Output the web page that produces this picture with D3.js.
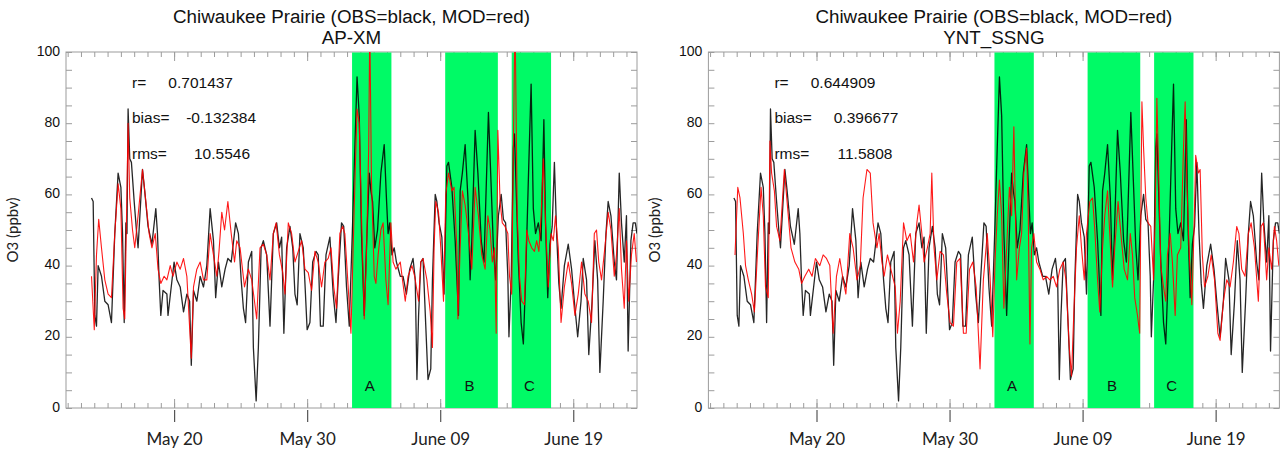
<!DOCTYPE html>
<html>
<head>
<meta charset="utf-8">
<script src="https://cdn.jsdelivr.net/npm/d3@7"></script>
<style>
  body { margin: 0; background: #fff; }
  svg { display: block; }
</style>
</head>
<body>
<svg id="chart" width="1287" height="450"></svg>
<script>
// Hourly ozone at Chiwaukee Prairie, times in hours after 00 UTC 12 May.
const obsHours = [43,46,49,52,55,61,67,73,79,85,91,96,99,102,105,107,109,112,115,120,
  124,127,135,139,145,152,159,162,165,168,172,179,181,189,192,197,203,209,215,220,
  223,227,233,239,245,251,257,263,267,272,278,284,289,295,303,308,313,317,321,326,
  332,335,340,344,349,353,359,365,371,377,382,386,390,395,401,406,410,414,419,425,
  432,437,442,448,452,456,461,466,473,479,484,488,494,498,503,508,514,518,522,526,
  530,535,539,544,547,550,554,559,565,571,575,578,581,585,589,593,600,605,611,617,
  623,627,630,633,637,641,646,650,655,658,663,666,670,675,679,684,687,693,699,705,
  708,712,717,722,726,729,735,740,746,751,759,764,768,772,777,782,786,790,794,796,
  800,804,806,813,818,822,826,831,836,840,844,849,854,859,862,866,870,874,878,882,
  886,890,896,903,909,914,920,926,930,936,940,946,951,956,960,966,971,975,980,986,
  990,995,999,1004,1008,1011,1016,1020,1024,1027];
const obsValues = [59,58,26,23,40,37,30,29,24,49,66,62,49,24,52,49,84,70,69,58,
  50,45,67,61,51,46,56,49,36,26,33,32,26,37,41,36,34,27,32,30,
  12,33,30,37,34,40,56,47,31,41,34,39,42,41,52,49,36,28,24,41,
  44,17,2,17,45,47,43,23,49,52,45,48,21,45,51,45,32,29,49,45,
  22,24,41,44,43,23,23,43,48,32,24,36,52,51,34,23,52,73,93,82,
  49,26,45,66,61,58,45,50,66,74,59,49,52,43,45,41,37,37,32,39,
  42,36,8,26,41,42,23,8,11,36,60,58,52,48,32,68,69,62,47,26,
  61,66,74,59,36,47,78,66,47,41,83,62,45,36,54,60,53,52,37,20,
  36,73,77,41,24,18,36,64,91,56,49,52,47,81,52,31,46,51,69,49,
  35,28,40,46,39,30,20,30,42,36,15,30,47,36,10,30,49,58,54,41,
  36,66,52,41,54,16,47,52,52,49];

// Model run AP-XM
const apxmHours = [43,48,52,56,61,67,73,79,85,91,96,100,103,106,109,112,117,121,127,135,
  139,147,152,158,163,168,174,179,185,190,197,203,209,215,223,227,233,239,245,251,
  257,263,269,273,278,283,289,295,301,305,311,319,326,332,337,341,347,353,359,365,
  371,376,382,388,392,398,404,410,416,422,428,434,440,446,452,458,464,470,475,480,
  485,491,496,500,506,511,515,519,522,526,530,535,539,543,545,548,553,556,560,565,
  569,574,578,583,587,592,600,604,609,614,621,626,633,637,641,648,654,658,661,664,
  669,673,678,682,687,693,697,702,704,708,712,717,723,729,735,741,747,753,758,762,
  766,770,773,776,780,784,789,794,797,801,804,807,811,815,819,824,828,832,837,842,
  846,850,854,858,862,867,872,876,880,885,890,896,903,909,915,921,927,933,939,945,
  950,954,958,963,969,975,980,986,990,995,999,1004,1008,1012,1017,1022,1026];
const apxmValues = [37,22,43,53,45,36,32,31,49,63,56,28,25,52,80,59,50,45,54,67,
  61,49,45,49,39,35,37,36,40,37,41,39,42,37,14,34,39,41,36,36,
  49,43,37,44,55,50,58,49,41,47,45,34,39,36,30,25,45,46,43,36,
  49,52,43,38,32,52,49,41,44,47,39,38,33,44,41,34,41,42,45,34,
  28,49,51,49,34,21,45,68,84,80,54,25,43,73,108,64,37,35,43,50,
  52,36,29,52,41,39,41,36,30,37,40,37,30,41,42,36,27,17,45,58,
  55,45,30,60,66,61,62,45,25,45,61,57,49,39,62,54,43,39,54,50,
  41,45,21,78,58,52,51,49,37,32,73,110,54,37,30,29,50,47,45,44,
  47,44,54,70,52,34,49,47,54,45,24,34,41,35,26,32,41,32,30,24,
  49,50,41,36,45,55,50,37,43,56,39,28,47,30,43,49,41];

// Model run YNT_SSNG
const yntHours = [45,50,54,60,64,69,75,80,86,92,96,100,105,108,111,116,120,126,134,140,
  146,153,160,165,171,178,184,190,198,204,210,216,222,228,234,240,245,252,258,265,
  271,276,283,289,294,301,305,310,314,320,326,334,338,343,349,355,361,367,373,377,
  382,386,392,397,400,404,409,415,421,427,433,439,445,451,457,462,468,474,480,487,
  493,500,505,510,514,518,522,526,530,535,540,544,548,553,558,562,566,571,574,577,
  580,584,589,595,601,607,613,619,625,631,637,642,648,652,656,661,666,670,675,679,
  685,690,694,699,703,708,712,717,721,726,730,736,741,747,753,758,762,766,771,775,
  779,782,786,790,795,800,803,806,810,813,818,822,825,830,834,839,843,849,854,857,
  860,864,869,873,876,881,884,888,892,898,904,910,916,920,926,932,938,944,950,954,
  959,965,971,976,982,989,994,998,1004,1008,1013,1018,1022,1026];
const yntValues = [43,62,59,49,40,36,32,27,45,62,54,34,31,75,66,61,51,47,67,56,
  45,41,39,35,37,39,37,42,40,43,42,40,21,37,42,36,32,49,45,36,
  40,59,67,66,52,45,49,41,37,43,39,34,21,30,52,47,49,41,52,57,
  49,41,45,49,66,45,36,44,43,32,24,23,41,42,21,21,39,41,34,11,
  36,49,37,20,41,54,64,54,28,45,62,54,79,36,45,49,66,73,54,18,
  45,49,41,39,36,37,36,37,34,39,41,36,17,9,26,45,54,45,36,49,
  58,59,50,36,27,45,54,61,49,34,45,58,49,39,36,49,43,31,26,21,
  86,73,59,52,51,36,54,87,61,40,34,30,43,49,41,26,43,45,73,86,
  64,45,29,50,71,66,67,43,34,37,43,36,21,19,30,36,34,41,51,49,
  39,37,49,52,45,30,51,52,36,45,39,51,47,40];

// Episode windows (UTC)
const episodeLabels = ["A", "B", "C"];
const episodeStarts = ["2012-06-02T09:00:00Z", "2012-06-09T09:00:00Z", "2012-06-14T09:00:00Z"];
const episodeEnds   = ["2012-06-05T08:00:00Z", "2012-06-13T08:00:00Z", "2012-06-17T08:00:00Z"];

const dateTicks = ["2012-05-20", "2012-05-30", "2012-06-09", "2012-06-19"];
const ozoneTicks = [0, 20, 40, 60, 80, 100];

const statNames = ["r=", "bias=", "rms="];
const statsApxm = ["0.701437", "-0.132384", "10.5546"];
const statsYnt  = ["0.644909", "0.396677", "11.5808"];

const runNames = ["AP-XM", "YNT_SSNG"];
const runTitle = "Chiwaukee Prairie (OBS=black, MOD=red)";

// ---------------------------------------------------------------------------
const W = 571, H = 356, TOP = 52;
const panelLefts = [66, 708.4];
const t0 = Date.UTC(2012, 4, 12);
const toDate = h => new Date(t0 + h * 3600e3);

const x = d3.scaleUtc().domain([toDate(-3), toDate(1027)]).range([0, W]);
const y = d3.scaleLinear().domain([0, 100]).range([H, 0]);

const zip = (hs, vs) => hs.map((h, i) => ({ t: toDate(h), v: vs[i] }));
const obs = zip(obsHours, obsValues);
const runs = [zip(apxmHours, apxmValues), zip(yntHours, yntValues)];
const runStats = [statsApxm, statsYnt];

const line = d3.line().x(d => x(d.t)).y(d => y(d.v));
const svg = d3.select("#chart");
const axisGrey = "#9c9c9c";
const helv = "'Liberation Sans', Arial, Helvetica, sans-serif";
const cal = "Lato, 'Open Sans', sans-serif";

runs.forEach((mod, i) => {
  const g = svg.append("g").attr("transform", `translate(${panelLefts[i]},${TOP})`);

  // two-line title
  g.append("text").attr("x", W / 2).attr("y", -29)
    .attr("text-anchor", "middle").attr("font-family", helv).attr("font-size", 18.8)
    .attr("fill", "#111").text(runTitle);
  g.append("text").attr("x", W / 2).attr("y", -8)
    .attr("text-anchor", "middle").attr("font-family", helv).attr("font-size", 18.8)
    .attr("fill", "#111").text(runNames[i]);

  // minor ticks, all four sides, pointing inward
  const styleMinor = sel => {
    sel.select(".domain").remove();
    sel.selectAll("line").attr("stroke", axisGrey);
  };
  g.append("g").attr("transform", `translate(0,${H})`)
    .call(d3.axisBottom(x).ticks(d3.utcDay.every(1)).tickSize(-5).tickFormat(""))
    .call(styleMinor);
  g.append("g")
    .call(d3.axisTop(x).ticks(d3.utcDay.every(1)).tickSize(-5).tickFormat(""))
    .call(styleMinor);
  g.append("g")
    .call(d3.axisLeft(y).tickValues(d3.range(0, 101, 5)).tickSize(-6).tickFormat(""))
    .call(styleMinor);
  g.append("g").attr("transform", `translate(${W},0)`)
    .call(d3.axisRight(y).tickValues(d3.range(0, 101, 5)).tickSize(-6).tickFormat(""))
    .call(styleMinor);

  // major date ticks (inward at top and bottom)
  const majors = dateTicks.map(s => new Date(s + "T00:00:00Z"));
  g.append("g").attr("transform", `translate(0,${H})`)
    .call(d3.axisBottom(x).tickValues(majors).tickSize(-9).tickFormat(""))
    .call(styleMinor);
  g.append("g")
    .call(d3.axisTop(x).tickValues(majors).tickSize(-9).tickFormat(""))
    .call(styleMinor);

  // date labels with outward ticks
  const xAx = g.append("g").attr("transform", `translate(0,${H + 2})`)
    .call(d3.axisBottom(x).tickValues(majors).tickSize(12).tickPadding(11)
      .tickFormat(d3.utcFormat("%B %d")));
  xAx.select(".domain").remove();
  xAx.selectAll("line").attr("stroke", "#555").attr("stroke-width", 1.2);
  xAx.selectAll("text").attr("font-family", cal).attr("font-size", 17).attr("fill", "#222");

  // ozone labels
  const yAx = g.append("g")
    .call(d3.axisLeft(y).tickValues(ozoneTicks).tickSize(0).tickPadding(6));
  yAx.select(".domain").remove();
  yAx.selectAll("text").attr("font-family", helv).attr("font-size", 14)
    .attr("fill", "#111").attr("dy", "0.22em");

  g.append("text")
    .attr("transform", `translate(-48,${H / 2}) rotate(-90)`)
    .attr("text-anchor", "middle").attr("font-family", cal).attr("font-size", 15)
    .attr("fill", "#222").text("O3 (ppbv)");

  // plot frame
  g.append("rect").attr("width", W).attr("height", H)
    .attr("fill", "none").attr("stroke", axisGrey).attr("stroke-width", 1);

  // episode shading
  episodeLabels.forEach((lab, k) => {
    const a = x(new Date(episodeStarts[k])), b = x(new Date(episodeEnds[k]));
    g.append("rect").attr("x", a).attr("y", 0.5).attr("width", b - a).attr("height", H - 0.5)
      .attr("fill", "#00fa66");
    g.append("text").attr("x", (a + b) / 2 - 2).attr("y", H - 17)
      .attr("text-anchor", "middle").attr("font-family", helv).attr("font-size", 15)
      .attr("fill", "#111").text(lab);
  });

  // series
  const clipId = `plotclip${i}`;
  g.append("clipPath").attr("id", clipId)
    .append("rect").attr("width", W).attr("height", H);
  const plot = g.append("g").attr("clip-path", `url(#${clipId})`);
  plot.append("path").datum(obs).attr("d", line)
    .attr("fill", "none").attr("stroke", "#000").attr("stroke-width", 1.3)
    .attr("stroke-opacity", 0.85).attr("stroke-linejoin", "round");
  plot.append("path").datum(mod).attr("d", line)
    .attr("fill", "none").attr("stroke", "#f00").attr("stroke-width", 1.1)
    .attr("stroke-opacity", 0.9).attr("stroke-linejoin", "round");

  // statistics
  const valueEnds = [167, 190, 184];
  statNames.forEach((nm, k) => {
    const yy = y(90 - 10 * k);
    g.append("text").attr("x", 66).attr("y", yy)
      .attr("font-family", helv).attr("font-size", 15.5).attr("fill", "#111").text(nm);
    g.append("text").attr("x", valueEnds[k]).attr("y", yy).attr("text-anchor", "end")
      .attr("font-family", helv).attr("font-size", 15.5).attr("fill", "#111")
      .text(runStats[i][k]);
  });
});
</script>
</body>
</html>
